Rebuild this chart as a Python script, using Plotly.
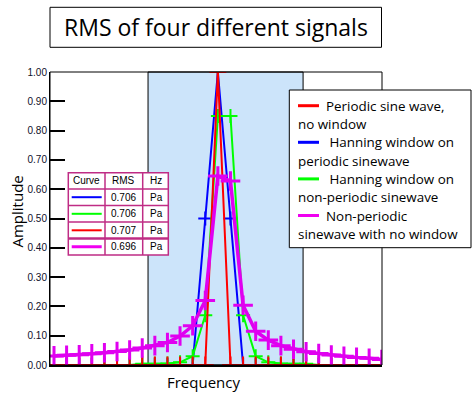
import plotly.graph_objects as go

# ---------------- data ----------------
bins = list(range(27))  # frequency bin index
red_vals = [0, 0, 0, 0, 0, 0, 0, 0, 0, 0, 0, 0, 0, 1.0, 0, 0, 0, 0, 0, 0, 0, 0, 0, 0, 0, 0, 0]
blue_vals = [0, 0, 0, 0, 0, 0, 0, 0, 0, 0, 0, 0, 0.5, 1.0, 0.5, 0, 0, 0, 0, 0, 0, 0, 0, 0, 0, 0, 0]
green_vals = [0, 0, 0, 0, 0, 0, 0, 0.004, 0.004, 0.005, 0.009, 0.03, 0.17, 0.85, 0.85, 0.17, 0.03,
              0.009, 0.005, 0.004, 0.004, 0, 0, 0, 0, 0, 0]
magenta_vals = [0.031, 0.033, 0.035, 0.038, 0.042, 0.046, 0.051, 0.058, 0.066, 0.077, 0.099, 0.134,
                0.22, 0.645, 0.628, 0.204, 0.115, 0.085, 0.066, 0.054, 0.045, 0.039, 0.034, 0.030,
                0.026, 0.023, 0.019]

legend_lines = [("Periodic sine wave,", "no window"),
                (" Hanning window on", "periodic sinewave"),
                (" Hanning window on", "non-periodic sinewave"),
                ("Non-periodic", "sinewave with no window")]
legend_colors = ["#FF0000", "#0000FF", "#00FF00", "#F000F0"]

table_header = ["Curve", "RMS", "Hz"]
table_rms = ["0.706", "0.706", "0.707", "0.696"]
table_units = ["Pa", "Pa", "Pa", "Pa"]
table_colors = ["#0000FF", "#00FF00", "#FF0000", "#F000F0"]

y_ticks = [0.0, 0.1, 0.2, 0.3, 0.4, 0.5, 0.6, 0.7, 0.8, 0.9, 1.0]
y_ticktext = ["0.00", "0.10", "0.20", "0.30", "0.40", "0.50", "0.60", "0.70", "0.80", "0.90", "1.00"]

title_text = "RMS of four different signals"
x_title = "Frequency"
y_title = "Amplitude"

# ---------------- layout geometry ----------------
W, H = 476, 394
PL, PR, PT, PB = 50, 382, 72, 365
x_range = [-0.317, 26.02]
band = [7.46, 19.76]


def px(x):
    return (x - PL) / (PR - PL)


def py(y):
    return (PB - y) / (PB - PT)


FONT_UI = "Open Sans"
FONT_TICK = "Liberation Sans, Arial"

fig = go.Figure()

trace_specs = [
    (blue_vals, "#0000FF", 2, 10, 2),
    (green_vals, "#00FF00", 2, 10, 2),
    (red_vals, "#FF0000", 2, 12, 2),
    (magenta_vals, "#E000F0", 3.5, 14, 3),
]
for vals, col, lw, msz, mlw in trace_specs:
    fig.add_trace(go.Scatter(
        x=bins, y=vals, mode="lines+markers",
        line=dict(color=col, width=lw),
        marker=dict(symbol="cross-thin", size=msz, line=dict(color=col, width=mlw)),
        showlegend=False, hoverinfo="skip"))

shapes = []
# shaded band
shapes.append(dict(type="rect", xref="x", yref="paper", x0=band[0], x1=band[1], y0=0, y1=1,
                   fillcolor="#CCE4FA", line=dict(color="black", width=1), layer="below"))
# plot frame
shapes.append(dict(type="rect", xref="paper", yref="paper", x0=0, x1=1, y0=0, y1=1,
                   line=dict(color="black", width=1), layer="above"))
# title box
shapes.append(dict(type="rect", xref="paper", yref="paper", x0=px(50), x1=px(381.5),
                   y0=py(47.3), y1=py(7.3), line=dict(color="black", width=1),
                   fillcolor="white", layer="above"))
# legend box
shapes.append(dict(type="rect", xref="paper", yref="paper", x0=px(289.3), x1=px(471),
                   y0=py(247.7), y1=py(90), line=dict(color="black", width=1),
                   fillcolor="white", layer="above"))

annotations = []
annotations.append(dict(xref="paper", yref="paper", x=px(215.5), y=py(27), text=title_text,
                        showarrow=False, xanchor="center", yanchor="middle",
                        font=dict(family=FONT_UI, size=23, color="black")))
annotations.append(dict(xref="paper", yref="paper", x=px(203), y=py(382), text=x_title,
                        showarrow=False, xanchor="center", yanchor="middle",
                        font=dict(family=FONT_UI, size=15, color="black")))
annotations.append(dict(xref="paper", yref="paper", x=px(16.5), y=py(212), text=y_title,
                        showarrow=False, xanchor="center", yanchor="middle", textangle=-90,
                        font=dict(family=FONT_UI, size=15, color="black")))

# custom legend
leg_first_y = 105.7
leg_step = 36.6
for i, ((l1, l2), col) in enumerate(zip(legend_lines, legend_colors)):
    yy = leg_first_y + i * leg_step
    shapes.append(dict(type="line", xref="paper", yref="paper", x0=px(298), x1=px(319),
                       y0=py(yy), y1=py(yy), line=dict(color=col, width=3), layer="above"))
    annotations.append(dict(xref="paper", yref="paper", x=px(324), y=py(yy), text=l1,
                            showarrow=False, xanchor="left", yanchor="middle",
                            font=dict(family=FONT_UI, size=13.4, color="black")))
    annotations.append(dict(xref="paper", yref="paper", x=px(295.5), y=py(yy + 18.3), text=l2,
                            showarrow=False, xanchor="left", yanchor="middle",
                            font=dict(family=FONT_UI, size=13.4, color="black")))

# RMS table
tcol = "#BF2C85"
tx = [68.3, 105, 142.7, 168.3]
ty = [172.7, 188.9, 205.5, 222.1, 238.5, 255]
shapes.append(dict(type="rect", xref="paper", yref="paper", x0=px(tx[0]), x1=px(tx[-1]),
                   y0=py(ty[-1]), y1=py(ty[0]), fillcolor="white",
                   line=dict(color=tcol, width=1.5), layer="above"))
for xv in tx[1:-1]:
    shapes.append(dict(type="line", xref="paper", yref="paper", x0=px(xv), x1=px(xv),
                       y0=py(ty[-1]), y1=py(ty[0]), line=dict(color=tcol, width=1.5), layer="above"))
for j, yv in enumerate(ty[1:-1]):
    shapes.append(dict(type="line", xref="paper", yref="paper", x0=px(tx[0]), x1=px(tx[-1]),
                       y0=py(yv), y1=py(yv), line=dict(color=tcol, width=2.5 if j == 3 else 1.5),
                       layer="above"))
tfont = dict(family=FONT_TICK, size=10, color="black")
rows_y = [(ty[k] + ty[k + 1]) / 2 for k in range(5)]
annotations.append(dict(xref="paper", yref="paper", x=px((tx[0] + tx[1]) / 2), y=py(rows_y[0]),
                        text=table_header[0], showarrow=False, xanchor="center", yanchor="middle", font=tfont))
annotations.append(dict(xref="paper", yref="paper", x=px((tx[1] + tx[2]) / 2), y=py(rows_y[0]),
                        text=table_header[1], showarrow=False, xanchor="center", yanchor="middle", font=tfont))
annotations.append(dict(xref="paper", yref="paper", x=px(148), y=py(rows_y[0]),
                        text=table_header[2], showarrow=False, xanchor="left", yanchor="middle", font=tfont))
for k, (val, unit, col) in enumerate(zip(table_rms, table_units, table_colors)):
    yy = rows_y[k + 1]
    shapes.append(dict(type="line", xref="paper", yref="paper", x0=px(71.7), x1=px(101.7),
                       y0=py(yy), y1=py(yy), line=dict(color=col, width=3 if k == 3 else 2),
                       layer="above"))
    annotations.append(dict(xref="paper", yref="paper", x=px((tx[1] + tx[2]) / 2), y=py(yy),
                            text=val, showarrow=False, xanchor="center", yanchor="middle", font=tfont))
    annotations.append(dict(xref="paper", yref="paper", x=px(148), y=py(yy),
                            text=unit, showarrow=False, xanchor="left", yanchor="middle", font=tfont))

fig.update_layout(
    width=W, height=H,
    margin=dict(l=PL, r=W - PR, t=PT, b=H - PB, pad=0),
    paper_bgcolor="white", plot_bgcolor="white",
    shapes=shapes, annotations=annotations,
    showlegend=False,
    xaxis=dict(range=x_range, showticklabels=False, ticks="", showgrid=False, zeroline=False,
               showline=True, linecolor="black", linewidth=2),
    yaxis=dict(range=[0, 1], tickvals=y_ticks, ticktext=y_ticktext, ticks="inside", ticklen=15,
               tickwidth=1.5, tickcolor="black", showgrid=False, zeroline=False,
               showline=True, linecolor="black", linewidth=1,
               tickfont=dict(family=FONT_TICK, size=10, color="#10102a")),
)

fig.write_html("out.html", config={"displayModeBar": False},
               post_script="document.body.style.margin='0';document.body.style.padding='0';")
